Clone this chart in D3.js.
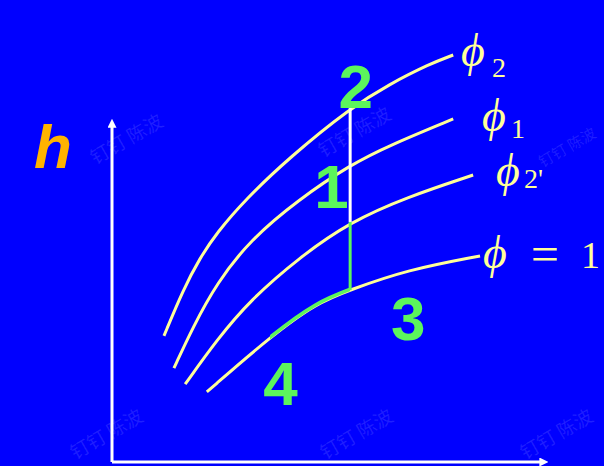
<!DOCTYPE html>
<html>
<head>
<meta charset="utf-8">
<script src="https://cdn.jsdelivr.net/npm/d3@7"></script>
<style>
  html, body { margin: 0; padding: 0; background: #0000FF; }
  svg { display: block; }
</style>
</head>
<body>
<svg id="chart" width="604" height="466"></svg>
<script>
// ---- data (abstract s–h diagram units) ----
const curveNames = ["phi2", "phi1", "phi2p", "phi1eq"];
const phi2 = [[1.20,3.71],[1.64,5.06],[2.03,6.00],[2.42,6.74],[3.07,7.71],[4.11,8.97],[5.50,10.41],[6.42,11.12],[7.34,11.71],[7.88,11.97]];
const phi1 = [[1.43,2.76],[1.87,3.97],[2.42,5.26],[3.19,6.53],[4.30,7.71],[5.50,8.74],[6.42,9.32],[7.88,10.09]];
const phi2p = [[1.69,2.29],[2.42,3.59],[3.19,4.76],[4.34,6.03],[5.50,7.06],[6.81,7.79],[8.34,8.44]];
const phi1eq = [[2.19,2.06],[3.65,3.68],[4.73,4.68],[5.50,5.06],[6.81,5.65],[8.50,6.06]];
const processX = 5.50;            // vertical process line
const processTop = 10.41, processMid = 7.06, processBot = 5.06;
const greenSpan = [3.65, 5.50];   // highlighted part of phi=1 curve
const pointLabels = ["2", "1", "3", "4"];
const pointPos = [[5.63, 10.41], [5.07, 7.47], [6.84, 3.59], [3.89, 1.67]];
const axisMax = [10.05, 10.06];

// ---- scales ----
const x = d3.scaleLinear().domain([0, 10]).range([112, 545]);
const y = d3.scaleLinear().domain([0, 12]).range([462, 54]);

const svg = d3.select("#chart");
svg.append("rect").attr("width", 604).attr("height", 466).attr("fill", "#0000FF");

// watermarks
const wm = [[130,145,19],[358,138,19],[570,152,15],[110,440,19],[360,440,19],[560,440,19]];
svg.append("g").selectAll("text").data(wm).join("text")
  .attr("transform", d => `translate(${d[0]},${d[1]}) rotate(-30)`)
  .attr("text-anchor", "middle")
  .attr("font-family", "Noto Sans CJK SC")
  .attr("font-size", d => d[2])
  .attr("fill", "#ffffff").attr("fill-opacity", 0.12)
  .text("钉钉 陈波");

// axes
const defs = svg.append("defs");
defs.append("marker").attr("id", "arr").attr("viewBox", "0 0 10 10")
  .attr("refX", 2).attr("refY", 5).attr("markerWidth", 3).attr("markerHeight", 3)
  .attr("orient", "auto")
  .append("path").attr("d", "M0,0 L10,5 L0,10 z").attr("fill", "#fff");
defs.append("clipPath").attr("id", "gclip").append("rect")
  .attr("x", x(greenSpan[0])).attr("y", 0)
  .attr("width", x(greenSpan[1]) - x(greenSpan[0])).attr("height", 466);

svg.append("line").attr("x1", x(0)).attr("y1", y(0)).attr("x2", x(0)).attr("y2", y(axisMax[1]) + 6)
  .attr("stroke", "#fff").attr("stroke-width", 3).attr("marker-end", "url(#arr)");
svg.append("line").attr("x1", x(0)).attr("y1", y(0)).attr("x2", x(axisMax[0]) - 6).attr("y2", y(0))
  .attr("stroke", "#fff").attr("stroke-width", 3).attr("marker-end", "url(#arr)");

// curves
const line = d3.line().x(d => x(d[0])).y(d => y(d[1])).curve(d3.curveBasis);
const curves = [phi2, phi1, phi2p, phi1eq];
svg.append("g").selectAll("path").data(curves).join("path")
  .attr("d", line).attr("fill", "none")
  .attr("stroke", "#FFFF99").attr("stroke-width", 3).attr("stroke-linecap", "butt");

// green highlight on phi=1
svg.append("path").attr("d", line(phi1eq)).attr("fill", "none")
  .attr("clip-path", "url(#gclip)")
  .attr("transform", "translate(0,-1)")
  .attr("stroke", "#5CF55C").attr("stroke-width", 3.5);

// process line
svg.append("line").attr("x1", x(processX)).attr("x2", x(processX))
  .attr("y1", y(processTop)).attr("y2", y(processMid))
  .attr("stroke", "#fff").attr("stroke-width", 3);
svg.append("line").attr("x1", x(processX)).attr("x2", x(processX))
  .attr("y1", y(processMid)).attr("y2", y(processBot))
  .attr("stroke", "#5CF55C").attr("stroke-width", 3);

// point labels
svg.append("g").selectAll("text").data(pointLabels).join("text")
  .attr("x", (d, i) => x(pointPos[i][0])).attr("y", (d, i) => y(pointPos[i][1]))
  .attr("text-anchor", "middle")
  .attr("font-family", "Liberation Sans, Arial, sans-serif")
  .attr("font-weight", "bold").attr("font-size", 62)
  .attr("fill", "#5CF55C")
  .text(d => d);

// h label
svg.append("text").attr("x", 34).attr("y", 168)
  .attr("font-family", "Liberation Sans, Arial, sans-serif")
  .attr("font-weight", "bold").attr("font-style", "italic").attr("font-size", 62)
  .attr("fill", "#FFB300").text("h");

// curve labels
const phiLabels = [
  {x: 461, y: 66, sub: "2", sx: 492, sy: 77},
  {x: 482, y: 131, sub: "1", sx: 511, sy: 138},
  {x: 496, y: 186, sub: "2'", sx: 524, sy: 188},
];
const lab = svg.append("g").attr("font-family", "Liberation Serif, Times New Roman, serif").attr("fill", "#FFFF99");
phiLabels.forEach(l => {
  lab.append("text").attr("x", l.x).attr("y", l.y)
    .attr("font-style", "italic").attr("font-size", 46).text("\u03D5");
  lab.append("text").attr("x", l.sx).attr("y", l.sy)
    .attr("font-size", 28).text(l.sub);
});
lab.append("text").attr("x", 483).attr("y", 268)
  .attr("font-style", "italic").attr("font-size", 46).text("\u03D5");
lab.append("text").attr("x", 531).attr("y", 271).attr("font-size", 50).text("=");
lab.append("text").attr("x", 581).attr("y", 268).attr("font-size", 38).text("1");
</script>
</body>
</html>
